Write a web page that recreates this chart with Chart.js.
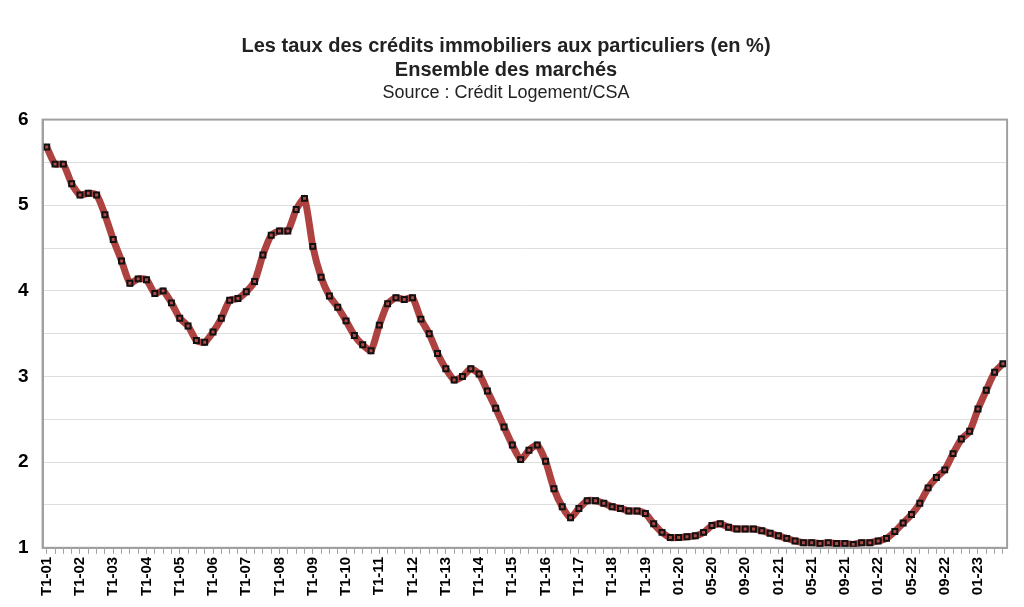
<!DOCTYPE html>
<html><head><meta charset="utf-8">
<script src="https://cdn.jsdelivr.net/npm/chart.js@4"></script>
<style>html,body{margin:0;padding:0;background:#fff}#w{width:1024px;height:607px}</style>
</head><body><div id="w"><canvas id="c"></canvas></div>
<script>
const years = ['01','02','03','04','05','06','07','08','09','10','11','12','13','14','15','16','17','18','19'];
const months = ['01','02','03','04','05','06','07','08','09','10','11','12'];
const monthlyYears = ['20','21','22'];
const lastYearMonths = ['01','02','03','04'];
const categories = [];
years.forEach(y => { for (let q = 1; q <= 4; q++) categories.push('T' + q + '-' + y); });
monthlyYears.forEach(y => months.forEach(m => categories.push(m + '-' + y)));
lastYearMonths.forEach(m => categories.push(m + '-23'));
const rates = [
 5.68,5.48,5.48,5.25, 5.12,5.14,5.12,4.89, 4.60,4.35,4.09,4.14, 4.13,3.97,4.00,3.86,
 3.68,3.59,3.42,3.40, 3.52,3.68,3.89,3.91, 3.99,4.11,4.42,4.65, 4.70,4.70,4.95,5.08,
 4.52,4.16,3.94,3.81, 3.65,3.48,3.37,3.30, 3.60,3.85,3.92,3.90, 3.92,3.67,3.50,3.27,
 3.09,2.96,3.00,3.09, 3.03,2.83,2.63,2.41, 2.20,2.03,2.14,2.20, 2.01,1.69,1.48,1.35,
 1.46,1.55,1.55,1.52, 1.48,1.46,1.43,1.43, 1.40,1.28,1.18,1.12,
 1.12,1.13,1.14,1.18,1.26,1.28,1.24,1.22,1.22,1.22,1.20,1.17,
 1.14,1.11,1.08,1.06,1.06,1.05,1.06,1.05,1.05,1.04,1.06,1.06,
 1.08,1.11,1.19,1.29,1.39,1.52,1.70,1.82,1.91,2.10,2.27,2.36,
 2.62,2.84,3.05,3.15
];
const yTickLabels = ['1','2','3','4','5','6'];
const F = "'Liberation Sans', Arial, sans-serif";
const border = {
  id: 'border',
  afterDraw(ch) {
    const a = ch.chartArea, c = ch.ctx;
    c.save(); c.strokeStyle = '#a0a0a0'; c.lineWidth = 2;
    c.strokeRect(a.left, a.top, a.right - a.left, a.bottom - a.top); c.restore();
  }
};
new Chart(document.getElementById('c'), {
  type: 'line',
  data: { labels: categories, datasets: [{
    data: rates, borderColor: '#ad4240', borderWidth: 7, tension: 0.2,
    pointStyle: 'rect', pointRadius: 3.5, pointBorderWidth: 2,
    pointBorderColor: '#111', pointBackgroundColor: '#b04a48'
  }]},
  options: {
    responsive: true, maintainAspectRatio: false, animation: false,
    layout: { padding: { left: 4, right: 16, top: 34, bottom: 8 } },
    plugins: {
      legend: { display: false }, tooltip: { enabled: false },
      title: { display: true, text: ['Les taux des crédits immobiliers aux particuliers (en %)', 'Ensemble des marchés'],
        color: '#222', font: { family: F, size: 20, weight: 'bold', lineHeight: 1.2 }, padding: { top: 0, bottom: 0 } },
      subtitle: { display: true, text: 'Source : Crédit Logement/CSA', color: '#222',
        font: { family: F, size: 18 }, padding: { top: 0, bottom: 16 } }
    },
    scales: {
      x: {
        offset: true,
        grid: { display: true, drawOnChartArea: false, tickLength: 6, color: '#a0a0a0' },
        border: { color: '#a0a0a0', width: 2 },
        ticks: { autoSkip: false, maxRotation: 90, minRotation: 90, color: '#000',
          font: { family: F, size: 15, weight: 'bold' },
          callback: (v, i) => i % 4 === 0 ? categories[i] : '' }
      },
      y: {
        min: 1, max: 6,
        grid: { color: '#dedede', lineWidth: 1, drawTicks: false },
        border: { color: '#a0a0a0', width: 2 },
        ticks: { stepSize: 0.5, padding: 14, color: '#000',
          font: { family: F, size: 19, weight: 'bold' },
          callback: v => Number.isInteger(v) ? yTickLabels[v - 1] : '' }
      }
    }
  },
  plugins: [border]
});
</script></body></html>
